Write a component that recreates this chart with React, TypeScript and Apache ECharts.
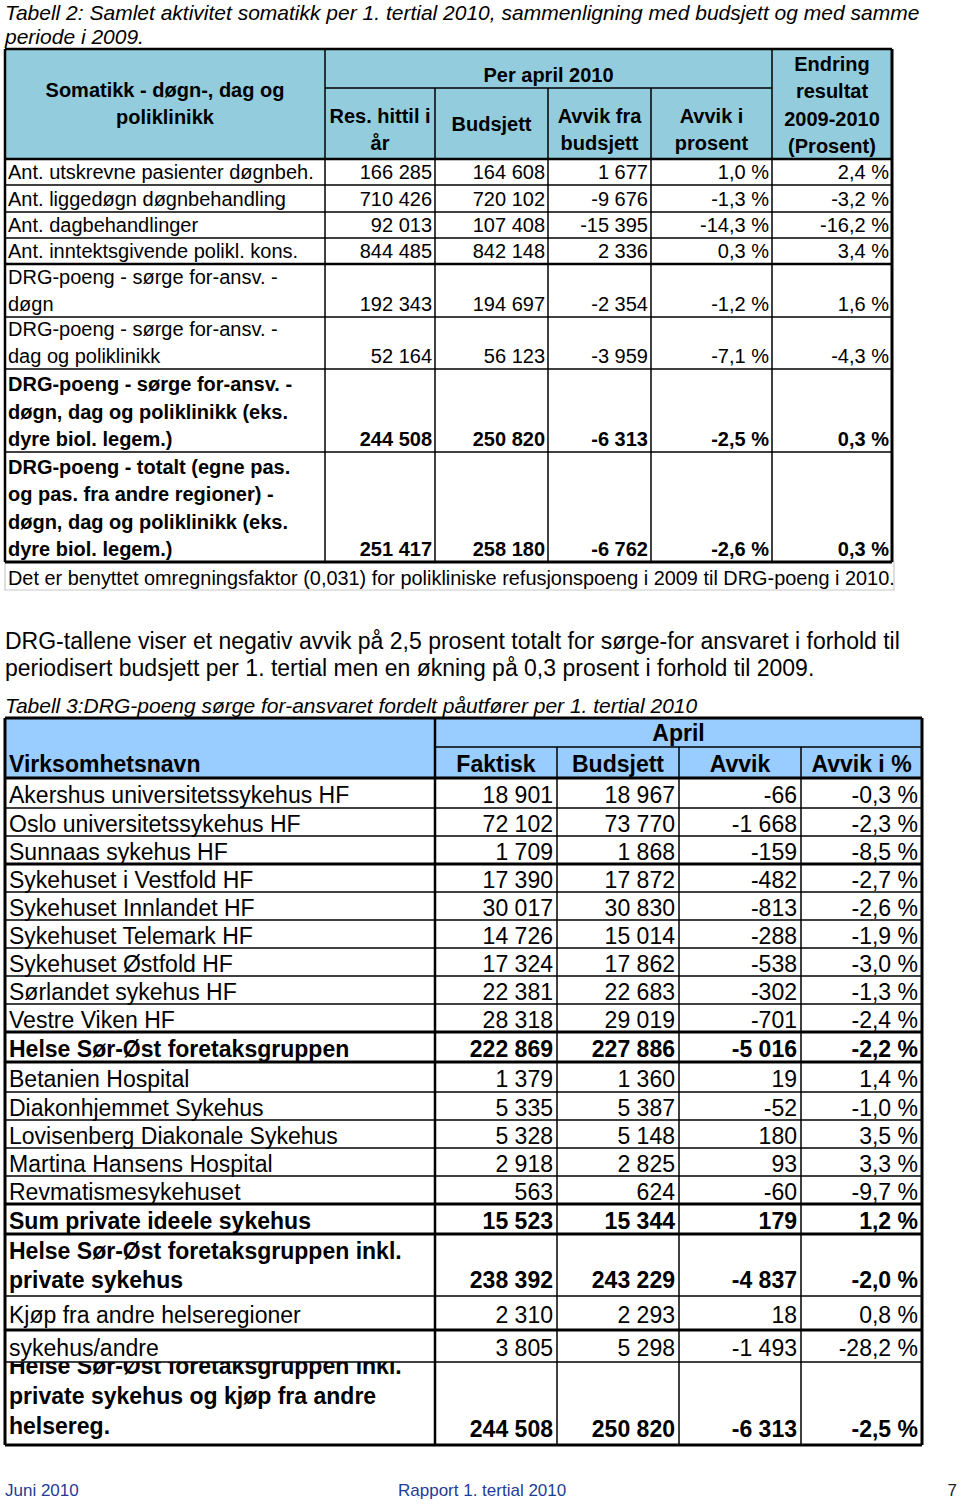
import React, { useEffect, useRef } from "react";
import * as echarts from "echarts";

// ---------- DATA ----------
const t2Title = [
  "Tabell 2: Samlet aktivitet somatikk per 1. tertial 2010, sammenligning med budsjett og med samme",
  "periode i 2009.",
];
const t2Labels: string[][] = [
  ["Ant. utskrevne pasienter døgnbeh."],
  ["Ant. liggedøgn døgnbehandling"],
  ["Ant. dagbehandlinger"],
  ["Ant. inntektsgivende polikl. kons."],
  ["DRG-poeng - sørge for-ansv. -", "døgn"],
  ["DRG-poeng - sørge for-ansv. -", "dag og poliklinikk"],
  ["DRG-poeng - sørge for-ansv. -", "døgn, dag og poliklinikk (eks.", "dyre biol. legem.)"],
  ["DRG-poeng - totalt (egne pas.", "og pas. fra andre regioner) -", "døgn, dag og poliklinikk (eks.", "dyre biol. legem.)"],
];
const t2Bold = [false, false, false, false, false, false, true, true];
const t2Res = [166285, 710426, 92013, 844485, 192343, 52164, 244508, 251417];
const t2Budsjett = [164608, 720102, 107408, 842148, 194697, 56123, 250820, 258180];
const t2Avvik = [1677, -9676, -15395, 2336, -2354, -3959, -6313, -6762];
const t2AvvikPct = [1.0, -1.3, -14.3, 0.3, -1.2, -7.1, -2.5, -2.6];
const t2Endring = [2.4, -3.2, -16.2, 3.4, 1.6, -4.3, 0.3, 0.3];
const t2Footnote =
  "Det er benyttet omregningsfaktor (0,031) for polikliniske refusjonspoeng i 2009 til DRG-poeng i 2010.";

const paragraph = [
  "DRG-tallene viser et negativ avvik på 2,5 prosent totalt for sørge-for ansvaret i forhold til",
  "periodisert budsjett per 1. tertial men en økning på 0,3 prosent i forhold til 2009.",
];

const t3Title = "Tabell 3:DRG-poeng sørge for-ansvaret fordelt påutfører per 1. tertial 2010";
const t3Headers = ["Virksomhetsnavn", "Faktisk", "Budsjett", "Avvik", "Avvik i %"];
const t3Names: string[][] = [
  ["Akershus universitetssykehus HF"],
  ["Oslo universitetssykehus HF"],
  ["Sunnaas sykehus HF"],
  ["Sykehuset i Vestfold HF"],
  ["Sykehuset Innlandet HF"],
  ["Sykehuset Telemark HF"],
  ["Sykehuset Østfold HF"],
  ["Sørlandet sykehus HF"],
  ["Vestre Viken HF"],
  ["Helse Sør-Øst foretaksgruppen"],
  ["Betanien Hospital"],
  ["Diakonhjemmet Sykehus"],
  ["Lovisenberg Diakonale Sykehus"],
  ["Martina Hansens Hospital"],
  ["Revmatismesykehuset"],
  ["Sum private ideele sykehus"],
  ["Helse Sør-Øst foretaksgruppen inkl.", "private sykehus"],
  ["Kjøp fra andre helseregioner"],
  ["sykehus/andre"],
  ["Helse Sør-Øst foretaksgruppen inkl.", "private sykehus og kjøp fra andre", "helsereg."],
];
const t3Bold = [false, false, false, false, false, false, false, false, false, true, false, false, false, false, false, true, true, false, false, true];
const t3Faktisk = [18901, 72102, 1709, 17390, 30017, 14726, 17324, 22381, 28318, 222869, 1379, 5335, 5328, 2918, 563, 15523, 238392, 2310, 3805, 244508];
const t3Budsjett = [18967, 73770, 1868, 17872, 30830, 15014, 17862, 22683, 29019, 227886, 1360, 5387, 5148, 2825, 624, 15344, 243229, 2293, 5298, 250820];
const t3Avvik = [-66, -1668, -159, -482, -813, -288, -538, -302, -701, -5016, 19, -52, 180, 93, -60, 179, -4837, 18, -1493, -6313];
const t3AvvikPct = [-0.3, -2.3, -8.5, -2.7, -2.6, -1.9, -3.0, -1.3, -2.4, -2.2, 1.4, -1.0, 3.5, 3.3, -9.7, 1.2, -2.0, 0.8, -28.2, -2.5];

const footer = ["Juni 2010", "Rapport 1. tertial 2010", "7"];

// ---------- LAYOUT ----------
const FONT = "'Liberation Sans', Arial, Helvetica, sans-serif";
const t2Cols = [5, 325, 435, 548, 651, 772, 892];
const t2Top = 49;
const t2SubHead = 88;
const t2RowEdges = [159, 185, 212, 238, 264, 317, 369, 452, 562];
const t2ThickRows = [264];
const t3Cols = [5, 435, 557, 679, 801, 922];
const t3Top = 718;
const t3SubHead = 747;
const t3RowEdges = [778, 808, 836, 864, 892, 920, 948, 976, 1004, 1032, 1062, 1092, 1120, 1148, 1176, 1204, 1234, 1296, 1330, 1362, 1445];
const t3ThickRows = [864, 1032, 1062, 1204, 1234, 1330];
const T3_SIZE = 24.5;
const T3_SX = 0.94;

const fmtInt = (n: number) => {
  const s = Math.abs(n).toString().replace(/\B(?=(\d{3})+(?!\d))/g, " ");
  return (n < 0 ? "-" : "") + s;
};
const fmtPct = (p: number) => p.toFixed(1).replace(".", ",") + " %";

type TOpt = { size?: number; bold?: boolean; italic?: boolean; align?: string; color?: string; sx?: number; z?: number };
const T = (x: number, y: number, text: string, o: TOpt = {}) => ({
  type: "text",
  x,
  y,
  z: o.z ?? 3,
  scaleX: o.sx ?? 1,
  style: {
    text,
    fontSize: o.size ?? 20,
    fontWeight: o.bold ? "bold" : "normal",
    fontStyle: o.italic ? "italic" : "normal",
    fontFamily: FONT,
    fill: o.color ?? "#000",
    align: o.align ?? "left",
    verticalAlign: "middle",
  },
});
const L = (x1: number, y1: number, x2: number, y2: number, w = 1.5, color = "#000") => ({
  type: "line",
  z: 5,
  shape: { x1, y1, x2, y2 },
  style: { stroke: color, lineWidth: w },
});
const R = (x: number, y: number, w: number, h: number, fill: string, z = 0) => ({
  type: "rect",
  z,
  shape: { x, y, width: w, height: h },
  style: { fill },
});

function buildElements() {
  const el: any[] = [];
  // ---- Table 2 title
  el.push(T(5, 12, t2Title[0], { italic: true, size: 21 }));
  el.push(T(5, 36, t2Title[1], { italic: true, size: 21 }));

  // ---- Table 2 header
  const c = t2Cols;
  el.push(R(c[0], t2Top, c[6] - c[0], t2RowEdges[0] - t2Top, "#93CDDD"));
  const hb = { bold: true, size: 20, align: "center" };
  el.push(T((c[0] + c[1]) / 2, 90, "Somatikk - døgn-, dag og", hb));
  el.push(T((c[0] + c[1]) / 2, 117, "poliklinikk", hb));
  el.push(T((c[1] + c[5]) / 2, 75, "Per april 2010", hb));
  el.push(T((c[1] + c[2]) / 2, 116, "Res. hittil i", hb));
  el.push(T((c[1] + c[2]) / 2, 143, "år", hb));
  el.push(T((c[2] + c[3]) / 2, 124, "Budsjett", hb));
  el.push(T((c[3] + c[4]) / 2, 116, "Avvik fra", hb));
  el.push(T((c[3] + c[4]) / 2, 143, "budsjett", hb));
  el.push(T((c[4] + c[5]) / 2, 116, "Avvik i", hb));
  el.push(T((c[4] + c[5]) / 2, 143, "prosent", hb));
  ["Endring", "resultat", "2009-2010", "(Prosent)"].forEach((s, i) =>
    el.push(T((c[5] + c[6]) / 2, 64 + 27.3 * i, s, hb))
  );

  // ---- Table 2 body
  t2Labels.forEach((lines, r) => {
    const top = t2RowEdges[r];
    const bot = t2RowEdges[r + 1];
    const n = lines.length;
    const lastY = n === 1 ? (top + bot) / 2 : bot - 13;
    const o = { bold: t2Bold[r], size: 20 };
    lines.forEach((s, i) => el.push(T(c[0] + 3, lastY - 27.3 * (n - 1 - i), s, o)));
    const vals = [fmtInt(t2Res[r]), fmtInt(t2Budsjett[r]), fmtInt(t2Avvik[r]), fmtPct(t2AvvikPct[r]), fmtPct(t2Endring[r])];
    vals.forEach((v, k) => el.push(T(c[k + 2] - 3, lastY, v, { ...o, align: "right" })));
  });

  // ---- Table 2 lines
  el.push(L(c[1], t2SubHead, c[5], t2SubHead, 1.5));
  [c[1], c[5]].forEach((x) => el.push(L(x, t2Top, x, t2RowEdges[t2RowEdges.length - 1], 1.5)));
  [c[2], c[3], c[4]].forEach((x) => el.push(L(x, t2SubHead, x, t2RowEdges[t2RowEdges.length - 1], 1.5)));
  t2RowEdges.forEach((y, i) => {
    if (i === t2RowEdges.length - 1) return;
    const thick = i === 0 || t2ThickRows.includes(y);
    el.push(L(c[0], y, c[6], y, thick ? 2.5 : 1.5));
  });
  el.push(L(c[0], t2Top, c[6], t2Top, 2.5));
  el.push(L(c[0], t2Top, c[0], t2RowEdges[8], 2.5));
  el.push(L(c[6], t2Top, c[6], t2RowEdges[8], 3));
  el.push(L(c[0], t2RowEdges[8], c[6], t2RowEdges[8], 3));
  // footnote with light box
  el.push({ type: "rect", z: 4, shape: { x: 5, y: 562, width: 889, height: 28 }, style: { fill: "none", stroke: "#C8C8C8", lineWidth: 1.2 } });
  el.push(T(8, 578, t2Footnote, { size: 19.9 }));

  // ---- Paragraph
  paragraph.forEach((s, i) => el.push(T(5, 641 + 27 * i, s, { size: 23 })));

  // ---- Table 3 title
  el.push(T(5, 705, t3Title, { italic: true, size: 21 }));

  // ---- Table 3 header
  const d = t3Cols;
  const lastEdge = t3RowEdges[t3RowEdges.length - 1];
  el.push(R(d[0], t3Top, d[5] - d[0], t3RowEdges[0] - t3Top, "#99CCFF"));
  const hb3 = { bold: true, size: T3_SIZE, sx: T3_SX, align: "center" };
  el.push(T((d[1] + d[5]) / 2, 732, "April", hb3));
  el.push(T(d[0] + 4, 763, t3Headers[0], { bold: true, size: T3_SIZE, sx: T3_SX }));
  for (let k = 1; k < 5; k++) el.push(T((d[k] + d[k + 1]) / 2, 763, t3Headers[k], hb3));

  // ---- Table 3 body
  t3Names.forEach((lines, r) => {
    const top = t3RowEdges[r];
    const bot = t3RowEdges[r + 1];
    const n = lines.length;
    const isLast = r === t3Names.length - 1;
    const lastY = n === 1 ? (top + bot) / 2 + 1 : bot - 17;
    const textLastY = isLast ? lastY - 3 : lastY;
    const gap = isLast ? 30 : 28.3;
    const o = { bold: t3Bold[r], size: T3_SIZE, sx: T3_SX, z: isLast ? 1 : 3 };
    lines.forEach((s, i) => el.push(T(d[0] + 4, textLastY - gap * (n - 1 - i), s, o)));
    const vals = [fmtInt(t3Faktisk[r]), fmtInt(t3Budsjett[r]), fmtInt(t3Avvik[r]), fmtPct(t3AvvikPct[r])];
    vals.forEach((v, k) => el.push(T(d[k + 2] - 4, lastY, v, { ...o, align: "right" })));
  });
  // cover so the last row's first line is clipped by the row above
  el.push(R(d[0], t3RowEdges[18], d[5] - d[0], t3RowEdges[19] - t3RowEdges[18], "#fff", 2));

  // ---- Table 3 lines
  el.push(L(d[1], t3SubHead, d[5], t3SubHead, 1.5));
  el.push(L(d[1], t3Top, d[1], lastEdge, 2.5));
  [d[2], d[3], d[4]].forEach((x) => el.push(L(x, t3SubHead, x, lastEdge, 1.5)));
  t3RowEdges.forEach((y, i) => {
    if (i === t3RowEdges.length - 1) return;
    const thick = i === 0 || t3ThickRows.includes(y);
    el.push(L(d[0], y, d[5], y, thick ? 3 : 1.5));
  });
  el.push(L(d[0], t3Top, d[5], t3Top, 3));
  el.push(L(d[0], t3Top, d[0], lastEdge, 3));
  el.push(L(d[5], t3Top, d[5], lastEdge, 3));
  el.push(L(d[0], lastEdge, d[5], lastEdge, 3));

  // ---- Footer
  el.push(T(5, 1490, footer[0], { size: 17, color: "#1F3C96" }));
  el.push(T(398, 1490, footer[1], { size: 17, color: "#1F3C96" }));
  el.push(T(957, 1490, footer[2], { size: 17, color: "#222", align: "right" }));
  return el;
}

export default function App() {
  const ref = useRef<HTMLDivElement>(null);
  useEffect(() => {
    if (!ref.current) return;
    const chart = echarts.init(ref.current, null, { renderer: "svg" });
    chart.setOption({ animation: false, graphic: { elements: buildElements() } });
    return () => chart.dispose();
  }, []);
  return (
    <div
      ref={ref}
      style={{ position: "absolute", left: 0, top: 0, width: 960, height: 1504, background: "#fff" }}
    />
  );
}
